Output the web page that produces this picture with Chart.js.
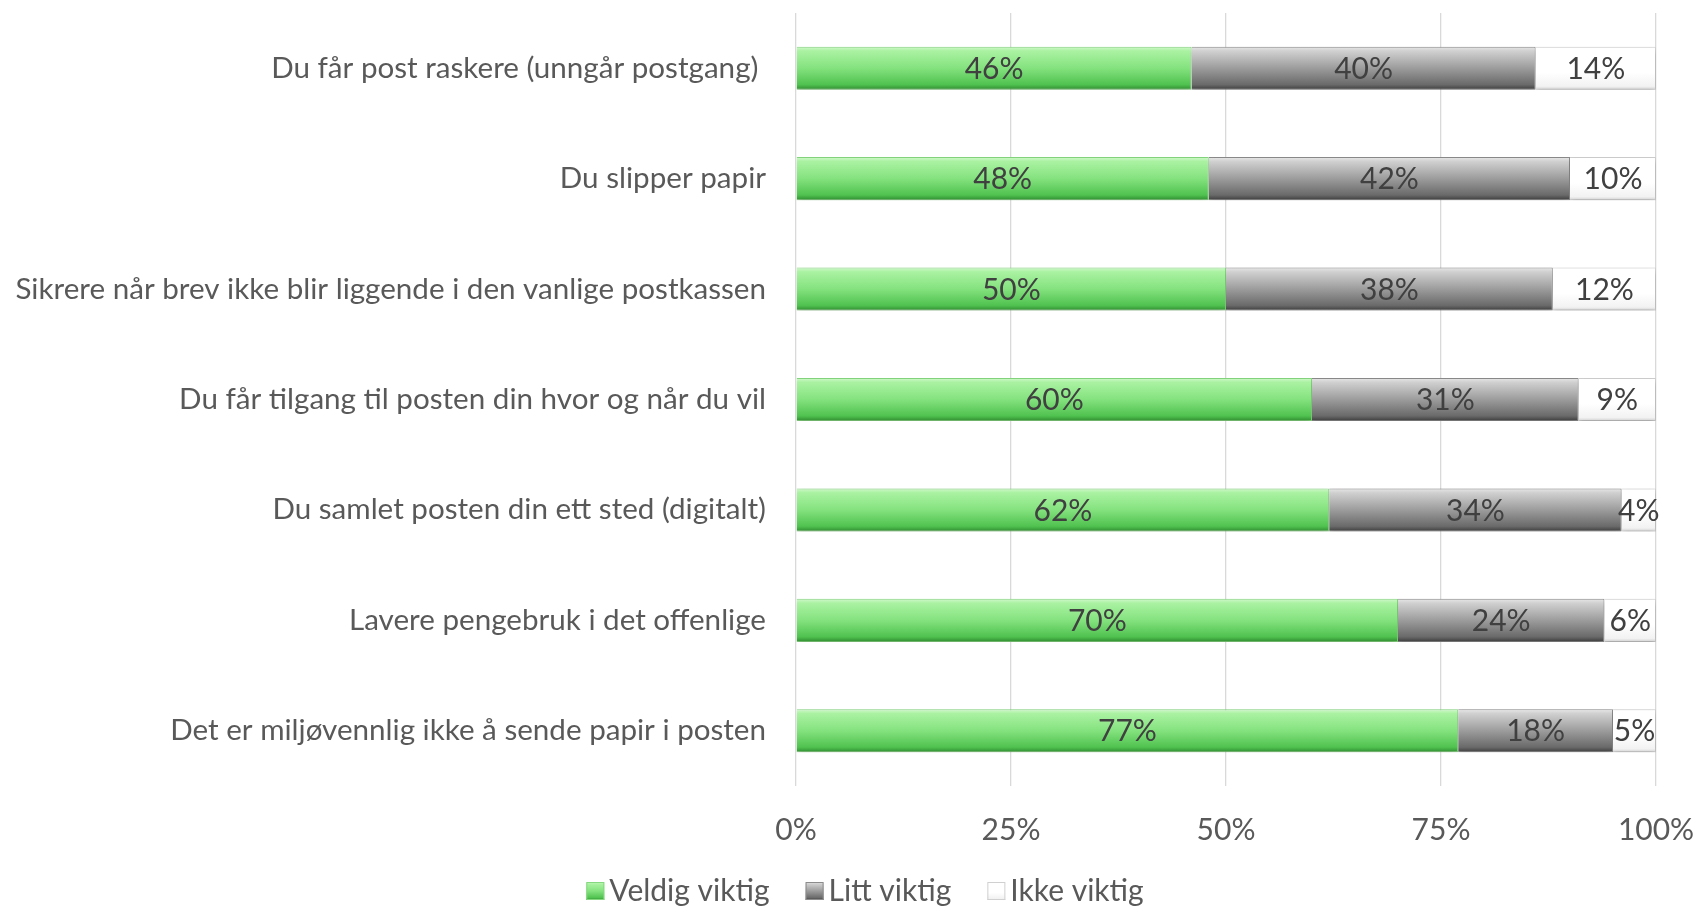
<!DOCTYPE html>
<html>
<head>
<meta charset="utf-8">
<script src="https://cdn.jsdelivr.net/npm/chart.js@4"></script>
<style>
  html, body { margin: 0; padding: 0; background: #ffffff; }
  #wrap { width: 1696px; height: 906px; position: relative; }
</style>
</head>
<body>
<div id="wrap"><canvas id="c" width="1696" height="906"></canvas></div>
<script>
const categories = [
  "Du får post raskere (unngår postgang) ",
  "Du slipper papir",
  "Sikrere når brev ikke blir liggende i den vanlige postkassen",
  "Du får tilgang til posten din hvor og når du vil",
  "Du samlet posten din ett sted (digitalt)",
  "Lavere pengebruk i det offenlige",
  "Det er miljøvennlig ikke å sende papir i posten"
];
const seriesNames = ["Veldig viktig", "Litt viktig", "Ikke viktig"];
const veldigViktig = [46, 48, 50, 60, 62, 70, 77];
const littViktig   = [40, 42, 38, 31, 34, 24, 18];
const ikkeViktig   = [14, 10, 12, 9, 4, 6, 5];
const xTicks = [0, 25, 50, 75, 100];

const FONT = "Lato, 'Open Sans', sans-serif";
const FS = 30;
const BAR_FRAC = 0.39;

const palettes = [
  { stops: [[0, '#d2f8cc'], [0.1, '#aaf2a2'], [0.5, '#84e27e'], [0.88, '#50c250'], [1, '#2f8c2f']], border: '#86d880', legend: '#6fd46a' },
  { stops: [[0, '#e8e8e8'], [0.1, '#d0d0d0'], [0.5, '#9c9c9c'], [0.88, '#6a6a6a'], [1, '#3c3c3c']], border: '#8c8c8c', legend: '#6a6a6a' },
  { stops: [[0, '#ffffff'], [0.6, '#ffffff'], [0.92, '#f2f2f2'], [1, '#cfcfcf']], border: '#d0d0d0', legend: '#f2f2f2' }
];

function barGradient(si) {
  return function(ctx) {
    const chart = ctx.chart;
    const ys = chart.scales.y;
    if (!ys || ctx.dataIndex === undefined || !chart.chartArea) return palettes[si].legend;
    const yc = ys.getPixelForValue(ctx.dataIndex);
    const cat = (chart.chartArea.bottom - chart.chartArea.top) / categories.length;
    const h = cat * BAR_FRAC;
    const g = chart.ctx.createLinearGradient(0, yc - h / 2, 0, yc + h / 2);
    palettes[si].stops.forEach(s => g.addColorStop(s[0], s[1]));
    return g;
  };
}

const seriesValues = [veldigViktig, littViktig, ikkeViktig];

const datasets = seriesNames.map((name, i) => ({
  label: name,
  data: seriesValues[i],
  backgroundColor: barGradient(i),
  borderColor: palettes[i].border,
  borderWidth: 1,
  barPercentage: BAR_FRAC,
  categoryPercentage: 1.0
}));

const shadowPlugin = {
  id: 'shadow',
  beforeDatasetsDraw(chart) {
    const c = chart.ctx;
    c.save();
    c.shadowColor = 'rgba(0,0,0,0.22)';
    c.shadowBlur = 6;
    c.shadowOffsetX = 0;
    c.shadowOffsetY = 3;
  },
  afterDatasetsDraw(chart) {
    chart.ctx.restore();
  }
};

const labelPlugin = {
  id: 'valueLabels',
  afterDraw(chart) {
    const c = chart.ctx;
    c.save();
    c.font = FS + 'px ' + FONT;
    c.fillStyle = '#404040';
    c.textAlign = 'center';
    c.textBaseline = 'middle';
    chart.data.datasets.forEach((ds, di) => {
      const meta = chart.getDatasetMeta(di);
      meta.data.forEach((el, i) => {
        const x = (el.x + el.base) / 2;
        c.fillText(ds.data[i] + '%', x, el.y + 1);
      });
    });
    c.restore();
  }
};

const legendPlugin = {
  id: 'customLegend',
  afterDraw(chart) {
    const c = chart.ctx;
    c.save();
    c.font = FS + 'px ' + FONT;
    c.textBaseline = 'middle';
    c.textAlign = 'left';
    const box = 18, gapBox = 5, gapItem = 36;
    const widths = chart.data.datasets.map(d => box + gapBox + c.measureText(d.label).width);
    const total = widths.reduce((a, b) => a + b, 0) + gapItem * (widths.length - 1);
    let x = 865 - total / 2;
    const y = 891;
    chart.data.datasets.forEach((d, i) => {
      const g = c.createLinearGradient(0, y - box / 2, 0, y + box / 2);
      palettes[i].stops.forEach(s => g.addColorStop(s[0], s[1]));
      c.fillStyle = g;
      c.fillRect(x, y - box / 2, box, box);
      c.strokeStyle = palettes[i].border;
      c.lineWidth = 1;
      c.strokeRect(x + 0.5, y - box / 2 + 0.5, box - 1, box - 1);
      c.fillStyle = '#595959';
      c.fillText(d.label, x + box + gapBox, y);
      x += widths[i] + gapItem;
    });
    c.restore();
  }
};

new Chart(document.getElementById('c'), {
  type: 'bar',
  data: { labels: categories, datasets: datasets },
  plugins: [shadowPlugin, labelPlugin, legendPlugin],
  options: {
    indexAxis: 'y',
    responsive: false,
    animation: false,
    layout: { padding: { left: 10, right: 40, top: 13, bottom: 0 } },
    plugins: {
      legend: { display: false },
      tooltip: { enabled: false }
    },
    scales: {
      x: {
        stacked: true,
        min: 0,
        max: 100,
        afterBuildTicks(scale) { scale.ticks = xTicks.map(v => ({ value: v })); },
        afterFit(scale) { scale.height = 120; scale.paddingLeft = 0; scale.paddingRight = 0; },
        ticks: {
          callback: v => v + '%',
          color: '#595959',
          font: { family: FONT, size: FS },
          padding: 26,
          maxRotation: 0
        },
        grid: { color: '#d9d9d9', lineWidth: 1.3, drawTicks: false },
        border: { display: false }
      },
      y: {
        stacked: true,
        afterFit(scale) { scale.width = 786; scale.paddingTop = 0; scale.paddingBottom = 0; },
        ticks: {
          color: '#595959',
          font: { family: FONT, size: 29.6 },
          padding: 22
        },
        grid: { display: false },
        border: { display: false }
      }
    }
  }
});
</script>
</body>
</html>
